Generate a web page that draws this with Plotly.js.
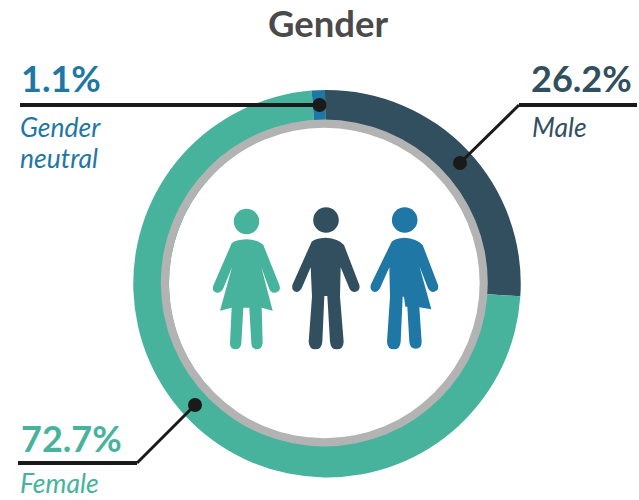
<!DOCTYPE html>
<html><head><meta charset="utf-8">
<script src="https://cdn.plot.ly/plotly-3.0.1.min.js"></script>
<style>html,body{margin:0;padding:0;background:#fff}</style></head>
<body><div id="chart" style="width:639px;height:500px"></div>
<script>
const categories = ["Male", "Female", "Gender neutral"];
const shares = [26.2, 72.7, 1.1];
const shareLabels = ["26.2%", "72.7%", "1.1%"];
const sliceColors = ["#324f5f", "#47b39c", "#1f77a6"];
const W = 639, H = 500;
const px = x => x / W, py = y => 1 - y / H;
const dom = (cx, cy, r) => ({x: [px(cx - r), px(cx + r)], y: [py(cy + r), py(cy - r)]});

const traces = [
  {type: "pie", values: shares, labels: categories, marker: {colors: sliceColors, line: {width: 0}},
   hole: 158 / 193.75, domain: dom(327, 283.75, 193.75), sort: false, direction: "clockwise", rotation: -0.6,
   textinfo: "none", showlegend: false},
  {type: "pie", values: [1], labels: ["ring"], marker: {colors: ["#b3b3b3"], line: {width: 0}},
   hole: 155.3 / 163.5, domain: dom(324.3, 283, 163.5), textinfo: "none", hoverinfo: "skip", showlegend: false, sort: false}
];

function mapPath(d) { // icon outlines drawn in a local grid offset from the plot
  return d.replace(/(-?[\d.]+),(-?[\d.]+)/g, (m, a, b) =>
    px(200 + a / 3).toFixed(5) + "," + py(190 + b / 3).toFixed(5));
}
const ink = "#1a1a1a";
const line = (pts, w) => ({type: "path", xref: "paper", yref: "paper", layer: "above",
  path: "M" + pts.map(p => px(p[0]).toFixed(5) + "," + py(p[1]).toFixed(5)).join(" L"),
  line: {color: ink, width: w, join: "miter"}});
const disc = (x, y, r, c) => ({type: "circle", xref: "paper", yref: "paper", layer: "above",
  x0: px(x - r), x1: px(x + r), y0: py(y + r), y1: py(y - r), fillcolor: c, line: {width: 0}});
const icon = (d, c) => ({type: "path", xref: "paper", yref: "paper", layer: "above",
  path: mapPath(d), fillcolor: c, line: {width: 0}});

const femalePath = "M 95,160 Q 105,150 140,148 Q 175,150 190,165 L 238,285 Q 245,305 225,308 Q 212,310 207,295 L 184,232 L 218,362 L 185,353 L 188,460 Q 185,478 171,478 Q 155,478 154,460 L 148,353 L 130,353 L 124,460 Q 122,478 107,478 Q 90,478 90,460 L 95,353 L 60,362 L 96,232 L 70,295 Q 62,310 50,308 Q 32,302 42,282 Z";
const malePath = "M 335,155 Q 345,145 378,143 Q 415,145 432,165 L 478,285 Q 482,303 465,306 Q 452,306 448,295 L 422,232 L 420,320 L 431,455 Q 430,478 410,478 Q 392,478 390,455 L 382,318 L 373,318 L 367,455 Q 365,478 346,478 Q 328,478 326,455 L 336,320 L 332,232 L 305,295 Q 298,306 290,306 Q 272,302 278,283 Z";
const neutralPath = "M 575,155 Q 585,145 614,143 Q 650,145 668,165 L 714,285 Q 718,303 700,306 Q 690,306 684,295 L 658,228 L 694,358 L 658,352 L 665,455 Q 665,476 647,476 Q 630,476 628,455 L 622,350 L 616,350 L 612,320 L 608,320 L 602,455 Q 600,478 582,478 Q 562,478 561,455 L 570,320 L 568,232 L 540,295 Q 533,306 525,306 Q 507,302 513,283 Z";

const shapes = [
  disc(246.5, 221.5, 12.7, sliceColors[1]), icon(femalePath, sliceColors[1]),
  disc(326, 220, 12.8, sliceColors[0]), icon(malePath, sliceColors[0]),
  disc(404.7, 220, 12.8, sliceColors[2]), icon(neutralPath, sliceColors[2]),
  line([[20, 105], [320, 105]], 4), disc(319.5, 105, 7, ink),
  line([[637, 105], [519, 105]], 4), line([[519, 105], [460, 163]], 3), disc(460, 163, 7, ink),
  line([[18, 463], [137, 463]], 4), line([[137, 463], [195, 405]], 3), disc(195, 405, 7, ink)
];

const font = "Lato, Carlito, 'Open Sans', sans-serif";
const note = (text, x, y, size, color) => ({
  text, xref: "paper", yref: "paper", x: px(x), y: py(y), xanchor: "left", yanchor: "middle",
  showarrow: false, align: "left", font: {family: font, size, color}});
const annotations = [
  note("<b>" + shareLabels[2] + "</b>", 18.5, 78, 36, sliceColors[2]),
  note("<i>Gender</i>", 18, 127, 26.5, sliceColors[2]),
  note("<i>neutral</i>", 18, 158, 26.5, sliceColors[2]),
  note("<b>" + shareLabels[0] + "</b>", 528.5, 78, 36, sliceColors[0]),
  note("<i>" + categories[0] + "</i>", 530, 126.5, 26.5, sliceColors[0]),
  note("<b>" + shareLabels[1] + "</b>", 18.5, 438, 36, sliceColors[1]),
  note("<i>" + categories[1] + "</i>", 18, 483, 26.5, sliceColors[1]),
  note("<b>Gender</b>", 265.5, 22.5, 36.5, "#4a4a4a")
];

Plotly.newPlot("chart", traces, {
  width: W, height: H, margin: {l: 0, r: 0, t: 0, b: 0},
  paper_bgcolor: "#fff", showlegend: false,
  shapes, annotations
}, {displayModeBar: false});
</script></body></html>
